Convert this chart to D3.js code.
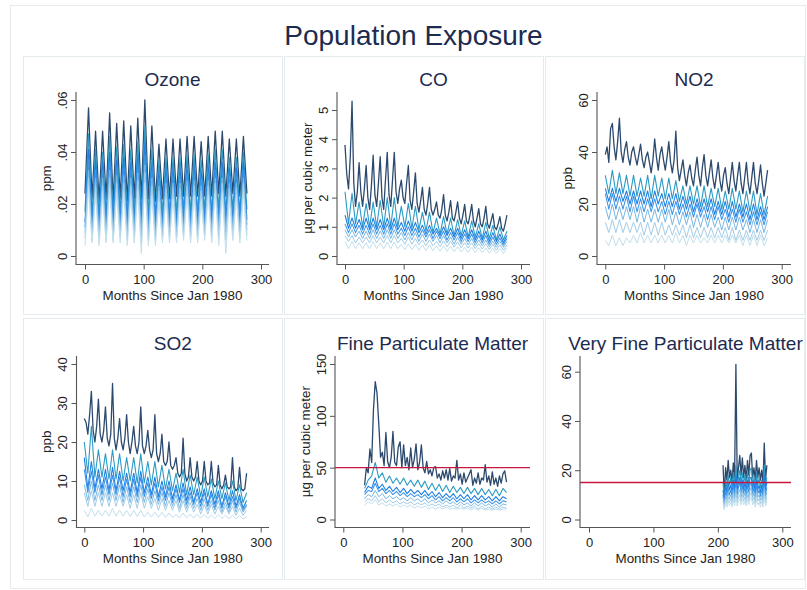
<!DOCTYPE html>
<html>
<head>
<meta charset="utf-8">
<script src="https://cdn.jsdelivr.net/npm/d3@7"></script>
<style>
  html, body { margin: 0; padding: 0; background: #fff; }
  svg { display: block; font-family: "Liberation Sans", Arial, Helvetica, sans-serif; }
</style>
</head>
<body>
<svg id="chart" width="807" height="590"></svg>
<script>
// Population exposure by pollutant, months since Jan 1980.
// Each panel holds seven exposure levels, highest (darkest) to lowest (lightest).
// A level is sampled every `step` months starting at `start`.

const monthTicks = [0, 100, 200, 300];

// ---- Ozone (kept in ppb, shown in ppm) ----
const ozoneStart = 0;
const ozoneSteps = [6, 6, 6, 6, 6, 6, 6];
const ozoneTicks = [0, 0.02, 0.04, 0.06];
const ozonePpb = [
  [24,57, 22,48, 21,48, 22,55, 21,51, 22,52, 21,50, 22,53, 22,60, 22,50, 21,43, 22,45, 22,45, 23,45, 23,46, 23,46, 23,44, 23,46, 23,48, 24,48, 23,45, 24,45, 23,46, 24],
  [17,47, 16,41, 16,40, 16,46, 16,42, 17,43, 16,41, 17,44, 16,50, 16,41, 16,37, 17,38, 17,38, 17,38, 18,39, 17,39, 17,37, 18,39, 17,41, 18,41, 17,38, 18,38, 17,40, 18],
  [13,41, 12,37, 12,36, 12,40, 12,37, 13,38, 12,36, 13,39, 12,44, 12,36, 12,33, 13,34, 13,34, 13,34, 14,35, 13,35, 13,33, 14,35, 13,36, 14,36, 13,34, 14,34, 13,36, 14],
  [11,37, 10,33, 10,33, 10,36, 10,34, 11,34, 10,33, 11,35, 10,39, 10,33, 10,30, 11,31, 11,31, 11,31, 12,32, 11,32, 11,30, 12,32, 11,33, 12,33, 11,31, 12,31, 11,33, 12],
  [9,33, 8,30, 8,30, 8,33, 8,31, 9,31, 8,30, 9,32, 8,35, 8,30, 8,27, 9,28, 9,28, 9,28, 10,29, 9,29, 9,27, 10,29, 9,30, 10,30, 9,28, 10,28, 9,30, 10],
  [7,30, 6,27, 6,27, 6,30, 6,28, 7,28, 6,27, 7,29, 5,32, 6,27, 6,25, 7,26, 7,26, 7,26, 8,27, 7,27, 7,25, 8,27, 7,28, 7,28, 6,26, 8,26, 7,28, 8],
  [4,26, 5,23, 4,23, 5,26, 5,24, 5,24, 4,23, 5,25, 1,28, 4,23, 4,21, 5,22, 5,22, 5,22, 6,23, 5,23, 5,21, 6,23, 5,24, 4,24, 1,22, 6,22, 5,24, 6]
];

// ---- CO ----
const coStart = 0;
const coSteps = [3, 6, 6, 6, 6, 6, 6];
const coTicks = [0, 1, 2, 3, 4, 5];
const coLevels = [
  [3.8,2.8,2.3,3.4, 5.3,2.5,1.7,2.2, 3.2,2.2,1.7,2.3, 3.1,2.0,1.6,2.4, 3.45,2.1,1.7,2.5, 3.4,2.0,1.6,2.6,
   3.55,2.1,1.7,2.6, 3.55,2.2,1.8,2.3, 2.6,2.0,1.8,2.5, 3.1,1.9,1.6,2.2, 2.85,1.8,1.5,1.9, 2.35,1.6,1.4,1.8,
   2.35,1.6,1.4,1.6, 1.85,1.4,1.3,1.6, 2.1,1.4,1.2,1.5, 1.9,1.3,1.2,1.5, 1.85,1.3,1.1,1.4, 1.77,1.2,1.1,1.4,
   1.77,1.2,1.0,1.3, 1.62,1.1,1.0,1.3, 1.7,1.1,0.95,1.2, 1.45,1.0,0.9,1.1, 1.35,0.95,0.85,1.1, 1.4],
  [2.2,1.1, 2.15,1.1, 1.85,1.0, 1.8,1.0, 1.85,1.0, 1.9,1.0, 2.0,1.0, 2.0,1.0, 1.7,1.0, 1.8,0.95, 1.7,0.9, 1.5,0.85, 1.5,0.8, 1.3,0.75, 1.35,0.75, 1.3,0.7, 1.25,0.7, 1.2,0.65, 1.2,0.65, 1.1,0.6, 1.15,0.6, 1.05,0.55, 1.0,0.55, 0.85],
  [1.4,0.95, 1.3,0.95, 1.25,0.9, 1.3,0.9, 1.3,0.9, 1.25,0.9, 1.3,0.9, 1.3,0.9, 1.15,0.85, 1.2,0.85, 1.15,0.8, 1.05,0.75, 1.05,0.75, 0.95,0.7, 1.0,0.7, 0.95,0.65, 0.95,0.6, 0.9,0.6, 0.9,0.55, 0.85,0.55, 0.85,0.5, 0.8,0.5, 0.75,0.45, 0.7],
  [1.1,0.8, 1.1,0.8, 1.05,0.75, 1.05,0.75, 1.1,0.75, 1.05,0.75, 1.1,0.75, 1.1,0.75, 0.95,0.7, 1.0,0.7, 0.95,0.65, 0.9,0.65, 0.9,0.6, 0.85,0.6, 0.85,0.55, 0.8,0.55, 0.8,0.5, 0.75,0.5, 0.75,0.45, 0.7,0.45, 0.7,0.4, 0.65,0.4, 0.62,0.38, 0.6],
  [0.9,0.65, 0.9,0.65, 0.85,0.6, 0.85,0.6, 0.9,0.6, 0.85,0.6, 0.9,0.6, 0.9,0.6, 0.8,0.55, 0.8,0.55, 0.8,0.5, 0.75,0.5, 0.75,0.5, 0.7,0.45, 0.7,0.45, 0.65,0.4, 0.65,0.4, 0.6,0.38, 0.6,0.35, 0.55,0.35, 0.55,0.32, 0.5,0.3, 0.5,0.3, 0.5],
  [0.7,0.5, 0.7,0.45, 0.65,0.45, 0.65,0.45, 0.7,0.45, 0.65,0.45, 0.7,0.45, 0.7,0.45, 0.6,0.4, 0.65,0.4, 0.6,0.38, 0.55,0.35, 0.55,0.35, 0.5,0.32, 0.52,0.32, 0.5,0.3, 0.48,0.28, 0.45,0.27, 0.45,0.25, 0.42,0.24, 0.42,0.22, 0.4,0.2, 0.38,0.2, 0.38],
  [0.5,0.25, 0.5,0.25, 0.45,0.25, 0.45,0.25, 0.5,0.25, 0.45,0.25, 0.48,0.25, 0.48,0.25, 0.4,0.22, 0.42,0.22, 0.4,0.2, 0.38,0.18, 0.38,0.18, 0.35,0.17, 0.35,0.16, 0.33,0.15, 0.32,0.14, 0.3,0.13, 0.3,0.12, 0.28,0.12, 0.28,0.1, 0.26,0.1, 0.25,0.08, 0.28]
];

// ---- NO2 ----
const no2Start = 0;
const no2Steps = [3, 6, 6, 6, 6, 6, 6];
const no2Ticks = [0, 20, 40, 60];
const no2Levels = [
  [39,42,36,49, 51,42,37,44, 53,40,36,41, 44,38,35,40, 42,38,35,39, 43,37,34,38, 40,36,32,37, 45,38,33,39,
   42,37,33,38, 44,36,32,37, 48,34,29,33, 37,31,27,32, 35,30,27,33, 38,31,27,34, 39,31,27,32, 37,30,26,31,
   36,29,25,31, 34,28,24,30, 36,29,25,31, 36,28,24,30, 36,28,24,30, 36,28,24,29, 35,28,23,28, 33],
  [31,24, 33,24, 32,24, 31,23, 31,23, 30,23, 31,22, 31,23, 30,22, 30,22, 29,21, 27,20, 27,20, 27,19, 27,19, 26,19, 26,18, 25,18, 26,18, 25,17, 25,17, 25,16, 24,16, 23],
  [26,21, 26,21, 26,21, 25,20, 25,20, 25,20, 25,19, 25,20, 24,19, 24,19, 24,18, 23,18, 23,17, 22,17, 22,17, 22,16, 21,16, 21,15, 21,15, 20,15, 20,14, 20,14, 19,14, 19],
  [24,18, 24,18, 23,18, 23,17, 23,17, 22,17, 22,17, 22,17, 21,16, 21,16, 21,16, 20,15, 20,15, 20,15, 19,14, 19,14, 19,14, 18,13, 18,13, 18,13, 17,12, 17,12, 17,12, 17],
  [19,14, 20,14, 19,14, 19,14, 19,13, 19,13, 18,13, 18,13, 18,13, 18,12, 17,12, 17,12, 17,11, 16,11, 16,11, 16,11, 15,10, 15,10, 15,10, 15,10, 14,9, 14,9, 14,9, 14],
  [13,9, 14,9, 14,9, 13,9, 13,9, 13,8, 13,8, 13,8, 13,8, 12,8, 12,8, 12,7, 12,7, 11,7, 11,7, 11,7, 11,7, 11,6, 11,6, 10,6, 10,6, 10,6, 10,6, 10],
  [6,4, 8,4, 7,4, 7,5, 8,5, 9,5, 8,5, 8,5, 8,5, 8,5, 9,5, 8,4, 8,5, 8,5, 7,5, 8,5, 8,5, 8,5, 8,5, 8,4, 8,4, 8,4, 8,4, 7]
];

// ---- SO2 ----
const so2Start = 0;
const so2Steps = [3, 6, 6, 6, 6, 6, 6];
const so2Ticks = [0, 10, 20, 30, 40];
const so2Levels = [
  [26,25,22,27, 33,23,20,24, 31,22,20,23, 29,21,19,22, 35,21,18,21, 26,20,18,21, 27,20,17,20, 24,19,17,20,
   29,19,17,19, 23,18,16,18, 27,17,15,17, 22,15,14,15, 20,14,13,14, 16,12,11,12, 21,12,10,11, 16,11,10,11,
   15,10,9,10, 15,10,9,9.5, 15,9.5,8.5,9, 14,9,8,9, 11.5,8.5,8,8.5, 16,8.5,7.5,8, 13.5,8,7.5,8, 12],
  [20,12, 24,11, 18,11, 17,10.5, 18,10.5, 17,10, 16,10, 16,9.5, 17,9.5, 15,9, 15,8.5, 14,8, 13,7.5, 12,7, 13,6.5, 11.5,6.5, 11,6, 11,6, 10.5,5.5, 10,5.5, 9.5,5, 10,5, 9,4.5, 7],
  [16,8, 15,8, 13,8, 13,7.5, 13.5,7.5, 12.5,7.5, 12,7, 12,7, 12.5,7, 11,6.5, 11,6, 10,6, 10,5.5, 9,5, 9.5,5, 8.5,4.5, 8,4.5, 8,4, 7.5,4, 7.5,3.5, 7,3.5, 7.5,3.5, 6.5,3, 5],
  [13,7, 12.5,7, 11.5,6.5, 11,6.5, 11.5,6.5, 11,6, 10.5,6, 10.5,6, 11,6, 9.5,5.5, 9.5,5, 8.5,5, 8.5,4.5, 8,4.5, 8,4, 7,4, 7,3.5, 7,3.5, 6.5,3, 6.5,3, 6,3, 6,3, 5.5,2.5, 4],
  [9,5, 10,5, 9,5, 9,5, 9.5,5, 9,4.5, 8.5,4.5, 8.5,4.5, 9,4.5, 8,4, 7.5,4, 7,3.5, 7,3.5, 6.5,3, 6.5,3, 6,3, 5.5,2.5, 5.5,2.5, 5,2.5, 5,2, 4.5,2, 5,2, 4.5,2, 3.5],
  [7,3.5, 7.5,3.5, 7,3.5, 7,3.5, 7,3.5, 6.5,3.5, 6.5,3, 6.5,3, 7,3, 6,3, 5.5,2.5, 5.5,2.5, 5,2.5, 5,2, 5,2, 4.5,2, 4,1.5, 4,1.5, 4,1.5, 3.5,1.5, 3.5,1.5, 3.5,1.2, 3,1.2, 2.5],
  [2.5,0.8, 3,1, 2.5,1, 2.5,1, 3,1, 2.5,1, 2.5,0.9, 2.5,0.9, 2.5,0.8, 2,0.8, 2,0.7, 2,0.7, 1.8,0.6, 1.5,0.5, 1.8,0.6, 1.5,0.5, 1.5,0.5, 1.4,0.4, 1.3,0.4, 1.3,0.4, 1.2,0.3, 1.2,0.3, 1.1,0.3, 0.8]
];

// ---- Fine particulate matter (from 1983) ----
const fpmStart = 36;
const fpmSteps = [3, 6, 6, 6, 6, 6, 6];
const fpmTicks = [0, 50, 100, 150];
const fpmStandard = 50;
const fpmLevels = [
  [33,50,45,68,55,106,133,122,92,60,65,52,84,56,50,60,85,55,52,70,75,50,72,52,60,48,69,50,58,73,48,55,72,50,45,56,
   44,48,42,50,51,40,44,38,47,40,48,38,49,37,42,40,57,38,44,34,45,36,40,44,48,33,40,35,45,34,40,38,53,36,42,33,
   46,34,40,32,42,35,44,47,36],
  [30,38, 42,55, 40,45, 36,42, 35,40, 34,40, 33,38, 32,38, 31,37, 29,35, 28,34, 27,33, 26,32, 26,31, 25,31, 25,30, 24,30, 24,29, 23,29, 23,30, 26],
  [26,32, 30,40, 30,34, 28,32, 27,31, 26,30, 25,29, 25,28, 24,28, 23,27, 22,26, 21,25, 21,25, 20,24, 20,24, 19,23, 19,23, 19,22, 18,22, 18,22, 20],
  [24,28, 27,35, 27,30, 25,28, 24,27, 23,26, 22,25, 22,24, 21,24, 20,23, 19,22, 18,21, 18,21, 17,20, 17,20, 16,19, 16,19, 16,18, 15,18, 15,18, 17],
  [20,24, 22,28, 22,25, 20,23, 20,22, 19,21, 18,21, 18,20, 17,20, 16,19, 16,18, 15,18, 15,17, 14,17, 14,16, 13,16, 13,16, 13,15, 12,15, 12,15, 14],
  [17,20, 18,23, 17,20, 16,19, 16,18, 15,17, 15,17, 14,16, 14,16, 13,15, 13,15, 12,14, 12,14, 11,14, 11,13, 11,13, 10,13, 10,12, 10,12, 10,12, 11],
  [14,17, 15,19, 14,16, 13,15, 13,15, 12,14, 12,14, 11,13, 11,13, 10,12, 10,12, 10,12, 10,11, 10,11, 10,11, 9,11, 9,11, 9,10, 9,10, 9,10, 10]
];

// ---- Very fine particulate matter (from 1997) ----
const vfpmStart = 208;
const vfpmSteps = [2, 2, 2, 2, 2, 2, 2];
const vfpmTicks = [0, 20, 40, 60];
const vfpmStandard = 15;
const vfpmLevels = [
  [22,10,21,16,24,17,20,15,23,17,63,16,21,26,18,25,17,22,16,24,18,26,27,17,21,16,24,17,21,16,20,15,31,16,22],
  [15,8,16,13,18,14,17,13,19,14,22,14,17,20,15,19,14,18,14,19,15,20,21,14,17,13,19,14,17,13,16,13,22,14,17],
  [12,7,14,11,15,12,14,11,16,12,18,12,15,17,13,16,12,15,12,16,13,17,17,12,15,11,16,12,14,11,14,11,18,12,15],
  [10,6.5,12,9.5,13,10,12,9.5,14,10,15,10,13,15,11,14,10.5,13,10,14,11,14,15,10.5,13,9.5,14,10.5,12,9.5,12,9.5,15,10,13],
  [9,6,10,8,11,8.5,10,8,12,8.5,13,8.5,11,12,9,12,9,11,8.5,12,9,12,13,9,11,8,12,9,10,8,10,8,13,8.5,11],
  [7.5,5,8.5,6.5,9,7,8.5,6.5,10,7,11,7,9,10,7.5,10,7.5,9,7,10,7.5,10,11,7.5,9,6.5,10,7.5,8.5,6.5,8.5,6.5,11,7,9],
  [6,4,7,5,7.5,5.5,7,5,8,5.5,9,5.5,7.5,8.5,6,8,6,7.5,5.5,8,6,8,9,6,7.5,5,8,6,7,5,7,5,9,5.5,7.5]
];

// ---- Styling ----
const levelColors = ['#2c4a6e', '#2a9bc4', '#1d7fe4', '#3b94e8', '#78b7e3', '#a2cce7', '#c2dfec'];
const levelWidths = [1.3, 1.1, 1.1, 1.05, 1.0, 1.0, 1.0];
const titleColor = '#1c2b4f';
const textColor = '#222';
const axisColor = '#555';
const frameColor = '#e4ecf0';
const standardColor = '#c8173f';

// Stata-style labels: ".02" rather than "0.02"
const fmtDecimal = d => d === 0 ? '0' : d3.format('.2f')(d).replace(/^0\./, '.');
const fmtInt = d3.format('d');

// Panel geometry: cell box, axis lines and pixel anchors of the scales
const layout = [
  {cx: 23.5,  cy: 56.5,  cw: 259, ch: 258, ax: 76,    right: 269,   top: 92,  base: 264.5, x0: 85,    x300: 261,   y0: 256,   yTop: 100},
  {cx: 284.5, cy: 56.5,  cw: 259, ch: 258, ax: 337,   right: 530,   top: 92,  base: 264.5, x0: 345,   x300: 521,   y0: 256,   yTop: 110},
  {cx: 545.5, cy: 56.5,  cw: 259, ch: 258, ax: 597,   right: 791,   top: 92,  base: 264.5, x0: 605.3, x300: 781.7, y0: 256,   yTop: 100},
  {cx: 23.5,  cy: 318.5, cw: 259, ch: 261, ax: 76.5,  right: 269,   top: 356, base: 527.5, x0: 84.3,  x300: 260.7, y0: 520,   yTop: 364},
  {cx: 284.5, cy: 318.5, cw: 259, ch: 261, ax: 335,   right: 530,   top: 356, base: 527.5, x0: 343.3, x300: 520.7, y0: 519.5, yTop: 364},
  {cx: 545.5, cy: 318.5, cw: 259, ch: 261, ax: 580,   right: 791,   top: 356, base: 527.5, x0: 589,   x300: 782.3, y0: 519.5, yTop: 371.7}
];

const panels = [
  {title: 'Ozone', yTitle: 'ppm', start: ozoneStart, steps: ozoneSteps, ticks: ozoneTicks, fmt: fmtDecimal,
   levels: ozonePpb.map(s => s.map(v => v / 1000))},
  {title: 'CO', yTitle: 'µg per cubic meter', start: coStart, steps: coSteps, ticks: coTicks, fmt: fmtInt, levels: coLevels},
  {title: 'NO2', yTitle: 'ppb', start: no2Start, steps: no2Steps, ticks: no2Ticks, fmt: fmtInt, levels: no2Levels},
  {title: 'SO2', yTitle: 'ppb', start: so2Start, steps: so2Steps, ticks: so2Ticks, fmt: fmtInt, levels: so2Levels},
  {title: 'Fine Particulate Matter', yTitle: 'µg per cubic meter', start: fpmStart, steps: fpmSteps, ticks: fpmTicks,
   fmt: fmtInt, levels: fpmLevels, standard: fpmStandard},
  {title: 'Very Fine Particulate Matter', yTitle: null, start: vfpmStart, steps: vfpmSteps, ticks: vfpmTicks,
   fmt: fmtInt, levels: vfpmLevels, standard: vfpmStandard}
];

const svg = d3.select('#chart');

// outer graph region
svg.append('rect')
  .attr('x', 10.5).attr('y', 5.5).attr('width', 795).attr('height', 583)
  .attr('fill', 'none').attr('stroke', frameColor);

svg.append('text')
  .attr('x', 413.5).attr('y', 45)
  .attr('text-anchor', 'middle')
  .attr('font-size', 28)
  .attr('fill', titleColor)
  .text('Population Exposure');

panels.forEach((p, idx) => {
  const L = layout[idx];
  const g = svg.append('g');

  g.append('rect')
    .attr('x', L.cx).attr('y', L.cy).attr('width', L.cw).attr('height', L.ch)
    .attr('fill', 'none').attr('stroke', frameColor);

  const x = d3.scaleLinear().domain([0, 300]).range([L.x0, L.x300]);
  const y = d3.scaleLinear().domain([0, p.ticks[p.ticks.length - 1]]).range([L.y0, L.yTop]);

  const line = d3.line()
    .x(d => x(d[0]))
    .y(d => y(d[1]));

  p.levels.forEach((vals, k) => {
    const step = p.steps[k];
    const pts = vals.map((v, i) => [p.start + i * step, v]);
    g.append('path')
      .datum(pts)
      .attr('fill', 'none')
      .attr('stroke', levelColors[k])
      .attr('stroke-width', levelWidths[k])
      .attr('stroke-linejoin', 'round')
      .attr('d', line);
  });

  if (p.standard !== undefined) {
    g.append('line')
      .attr('x1', L.ax).attr('x2', L.right)
      .attr('y1', y(p.standard)).attr('y2', y(p.standard))
      .attr('stroke', standardColor).attr('stroke-width', 1.4);
  }

  // y axis
  const ya = g.append('g')
    .attr('transform', `translate(${L.ax},0)`)
    .call(d3.axisLeft(y).tickValues(p.ticks).tickSize(5).tickFormat(p.fmt));
  ya.attr('font-family', null).attr('font-size', null);
  ya.select('.domain').remove();
  ya.selectAll('.tick line').attr('stroke', axisColor);
  ya.selectAll('.tick text')
    .attr('x', 0).attr('y', 0).attr('dy', 0)
    .attr('transform', 'translate(-9.5,0) rotate(-90)')
    .attr('text-anchor', 'middle')
    .attr('font-size', 13)
    .attr('fill', textColor);

  // x axis
  const xa = g.append('g')
    .attr('transform', `translate(0,${L.base})`)
    .call(d3.axisBottom(x).tickValues(monthTicks).tickSize(5));
  xa.attr('font-family', null).attr('font-size', null);
  xa.select('.domain').remove();
  xa.selectAll('.tick line').attr('stroke', axisColor);
  xa.selectAll('.tick text')
    .attr('y', 19.5).attr('dy', 0)
    .attr('font-size', 13)
    .attr('fill', textColor);

  // axis lines
  g.append('path')
    .attr('d', `M${L.ax},${L.top}V${L.base}H${L.right}`)
    .attr('fill', 'none')
    .attr('stroke', axisColor)
    .attr('stroke-width', 1.1);

  const midX = (L.ax + L.right) / 2;
  g.append('text')
    .attr('x', midX).attr('y', L.base + 35)
    .attr('text-anchor', 'middle')
    .attr('font-size', 13.4)
    .attr('fill', textColor)
    .text('Months Since Jan 1980');

  if (p.yTitle) {
    const midY = (L.top + L.base) / 2;
    g.append('text')
      .attr('transform', `translate(${L.ax - 25.5},${midY}) rotate(-90)`)
      .attr('text-anchor', 'middle')
      .attr('font-size', 13.4)
      .attr('fill', textColor)
      .text(p.yTitle);
  }

  g.append('text')
    .attr('x', midX).attr('y', L.top - 6)
    .attr('text-anchor', 'middle')
    .attr('font-size', 19)
    .attr('fill', titleColor)
    .text(p.title);
});
</script>
</body>
</html>
